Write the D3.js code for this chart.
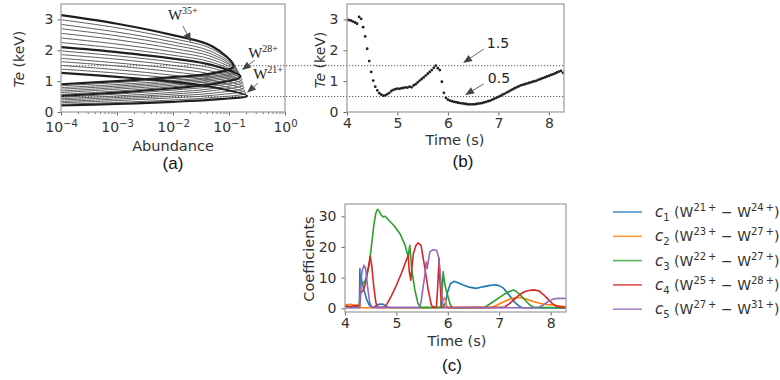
<!DOCTYPE html>
<html>
<head>
<meta charset="utf-8">
<script src="https://cdn.jsdelivr.net/npm/d3@7"></script>
<style>
body { margin: 0; background: #fff; }
svg { display: block; font-family: "DejaVu Sans", sans-serif; }
</style>
</head>
<body>
<svg id="fig" width="780" height="380"></svg>
<script>
// panel (a): W ion abundance curves, Te at fixed abundances on each side of the peak
var chargeStates = [21, 22, 23, 24, 25, 26, 27, 28, 29, 30, 31, 32, 33, 34, 35];
var boldStates = [21, 28, 35];
var abundGrid = [1e-4, 1e-3, 1e-2, 5e-2];
var teUpper = [
    [1.27, 1.14, 0.98, 0.81], [1.39, 1.26, 1.09, 0.91], [1.51, 1.37, 1.19, 1.02],
    [1.63, 1.49, 1.30, 1.12], [1.74, 1.59, 1.41, 1.22], [1.86, 1.71, 1.51, 1.32],
    [1.98, 1.82, 1.62, 1.42], [2.10, 1.94, 1.73, 1.52], [2.25, 2.07, 1.84, 1.61],
    [2.40, 2.20, 1.95, 1.70], [2.55, 2.34, 2.06, 1.79], [2.70, 2.47, 2.17, 1.87],
    [2.84, 2.59, 2.27, 1.95], [2.99, 2.73, 2.38, 2.04], [3.14, 2.86, 2.49, 2.13]
];
var teLower = [
    [0.21, 0.26, 0.33, 0.40], [0.25, 0.31, 0.39, 0.47], [0.30, 0.37, 0.46, 0.54],
    [0.34, 0.42, 0.52, 0.61], [0.39, 0.47, 0.58, 0.69], [0.43, 0.52, 0.64, 0.76],
    [0.48, 0.58, 0.71, 0.83], [0.52, 0.63, 0.77, 0.90], [0.57, 0.68, 0.82, 0.95],
    [0.63, 0.74, 0.87, 1.01], [0.68, 0.79, 0.92, 1.06], [0.74, 0.84, 0.97, 1.11],
    [0.79, 0.89, 1.02, 1.15], [0.85, 0.95, 1.08, 1.20], [0.90, 1.00, 1.13, 1.25]
];
var peakAbund = [0.21, 0.20, 0.19, 0.185, 0.18, 0.175, 0.17, 0.16, 0.155, 0.15, 0.145, 0.14, 0.135, 0.13, 0.12];
var peakTe = [0.52, 0.61, 0.70, 0.79, 0.88, 0.97, 1.06, 1.15, 1.20, 1.25, 1.30, 1.34, 1.38, 1.43, 1.48];
var teLevels = [1.5, 0.5];

// panel (b): measured Te (keV) vs time (s)
var teShot = [
    [4.00, 3.00], [4.04, 2.98], [4.08, 2.96], [4.12, 2.93], [4.16, 2.90], [4.20, 2.86],
    [4.24, 3.08], [4.28, 3.02], [4.32, 2.75], [4.36, 2.45], [4.40, 2.05], [4.44, 1.65],
    [4.48, 1.30], [4.52, 1.02], [4.56, 0.82], [4.60, 0.70], [4.64, 0.61], [4.68, 0.56],
    [4.72, 0.53], [4.76, 0.54], [4.80, 0.58], [4.84, 0.62], [4.88, 0.68], [4.92, 0.72],
    [4.96, 0.74], [5.00, 0.76], [5.04, 0.75], [5.08, 0.77], [5.12, 0.78], [5.16, 0.80],
    [5.20, 0.79], [5.24, 0.82], [5.28, 0.80], [5.32, 0.86], [5.36, 0.90], [5.40, 0.96],
    [5.44, 1.02], [5.48, 1.07], [5.52, 1.12], [5.56, 1.18], [5.60, 1.24], [5.64, 1.30],
    [5.68, 1.36], [5.72, 1.43], [5.76, 1.50], [5.80, 1.42], [5.84, 1.36], [5.88, 0.98],
    [5.92, 0.62], [5.96, 0.46], [6.00, 0.40], [6.04, 0.37], [6.08, 0.35], [6.12, 0.33],
    [6.16, 0.32], [6.20, 0.30], [6.24, 0.29], [6.28, 0.28], [6.32, 0.27], [6.36, 0.26],
    [6.40, 0.25], [6.44, 0.25], [6.48, 0.25], [6.52, 0.25], [6.56, 0.26], [6.60, 0.27],
    [6.64, 0.28], [6.68, 0.29], [6.72, 0.31], [6.76, 0.33], [6.80, 0.35], [6.84, 0.37],
    [6.88, 0.40], [6.92, 0.43], [6.96, 0.46], [7.00, 0.49], [7.04, 0.52], [7.08, 0.56],
    [7.12, 0.59], [7.16, 0.63], [7.20, 0.66], [7.24, 0.70], [7.28, 0.73], [7.32, 0.77],
    [7.36, 0.80], [7.40, 0.83], [7.44, 0.86], [7.48, 0.88], [7.52, 0.90], [7.56, 0.92],
    [7.60, 0.94], [7.64, 0.96], [7.68, 0.98], [7.72, 1.00], [7.76, 1.02], [7.80, 1.05],
    [7.84, 1.07], [7.88, 1.10], [7.92, 1.12], [7.96, 1.15], [8.00, 1.17], [8.04, 1.20],
    [8.08, 1.22], [8.12, 1.25], [8.16, 1.28], [8.20, 1.31], [8.24, 1.33], [8.28, 1.27]
];

// panel (c): coefficients vs time, one [t, value] list per series
var coef1 = [[4.0, 0.4], [4.28, 0.4], [4.29, 13.0], [4.30, 3.0], [4.31, 10.5], [4.36, 6.5], [4.42, 3.0],
    [4.48, 0.8], [4.55, 0.3], [4.62, 1.0], [4.68, 1.4], [4.75, 1.3], [4.80, 0.6], [4.86, 0.2], [5.90, 0.2],
    [5.95, 1.5], [6.00, 5.5], [6.05, 8.0], [6.12, 8.8], [6.20, 8.3], [6.30, 7.6], [6.42, 6.9], [6.55, 6.5],
    [6.68, 7.0], [6.80, 7.4], [6.92, 7.7], [7.00, 7.4], [7.08, 6.6], [7.15, 5.2], [7.22, 3.8], [7.30, 2.0],
    [7.38, 0.8], [7.45, 0.2], [8.30, 0.1]];
var coef2 = [[4.0, 1.1], [4.1, 1.3], [4.2, 1.0], [4.28, 1.2], [4.30, 0.2], [5.85, 0.2], [5.90, 2.5],
    [5.94, 3.5], [5.98, 0.5], [6.02, 0.1], [6.85, 0.2], [6.95, 1.0], [7.05, 1.8], [7.15, 2.6], [7.25, 3.2],
    [7.35, 3.6], [7.45, 3.4], [7.55, 2.9], [7.65, 2.3], [7.75, 1.8], [7.85, 1.4], [7.95, 1.2], [8.05, 1.1],
    [8.15, 0.8], [8.30, 0.5]];
var coef3 = [[4.0, 0.3], [4.28, 0.3], [4.30, 7.5], [4.34, 8.0], [4.38, 8.5], [4.42, 10.5], [4.47, 14.0],
    [4.52, 21.0], [4.56, 27.0], [4.60, 31.0], [4.63, 32.3], [4.66, 31.8], [4.70, 30.5], [4.74, 29.8],
    [4.78, 30.0], [4.82, 29.3], [4.88, 28.2], [4.95, 27.0], [5.07, 24.3], [5.17, 20.5], [5.23, 16.8],
    [5.26, 20.5], [5.30, 12.4], [5.36, 5.9], [5.42, 1.6], [5.48, 0.3], [5.86, 0.3], [5.89, 5.9],
    [5.91, 11.9], [5.94, 8.0], [5.97, 5.9], [6.04, 1.6], [6.08, 0.2], [6.72, 0.3], [6.78, 1.0], [6.90, 2.3],
    [7.00, 3.5], [7.10, 4.6], [7.20, 5.5], [7.28, 6.0], [7.34, 5.4], [7.42, 4.2], [7.52, 2.4], [7.60, 1.0],
    [7.68, 0.3], [8.30, 0.2]];
var coef4 = [[4.0, 0.8], [4.1, 0.6], [4.2, 0.9], [4.28, 0.7], [4.30, 5.0], [4.34, 5.5], [4.38, 7.0],
    [4.42, 10.0], [4.46, 14.0], [4.49, 17.0], [4.52, 14.0], [4.56, 7.0], [4.60, 2.0], [4.63, 0.3],
    [4.78, 0.3], [4.82, 1.5], [4.90, 4.0], [5.00, 7.5], [5.10, 11.5], [5.20, 16.0], [5.23, 17.3],
    [5.25, 12.0], [5.28, 9.2], [5.30, 13.0], [5.33, 17.8], [5.38, 20.5], [5.42, 21.3], [5.48, 20.5],
    [5.55, 13.5], [5.62, 5.9], [5.68, 1.1], [5.72, 0.3], [5.78, 0.5], [5.81, 9.0], [5.83, 16.2], [5.85, 8.0],
    [5.88, 1.0], [5.90, 0.3], [7.10, 0.3], [7.20, 1.5], [7.30, 3.0], [7.40, 4.5], [7.50, 5.5], [7.60, 5.9],
    [7.70, 6.0], [7.78, 5.6], [7.86, 4.5], [7.95, 3.0], [8.03, 1.6], [8.10, 0.8], [8.20, 0.4], [8.30, 0.3]];
var coef5 = [[4.0, 0.2], [4.28, 0.2], [4.30, 6.0], [4.33, 12.0], [4.37, 14.0], [4.40, 13.0], [4.44, 7.0],
    [4.48, 2.0], [4.52, 0.3], [5.44, 0.3], [5.48, 2.0], [5.52, 7.0], [5.55, 10.3], [5.58, 15.1], [5.60, 13.0],
    [5.65, 18.4], [5.71, 19.1], [5.78, 18.9], [5.82, 16.8], [5.86, 10.3], [5.90, 1.6], [5.93, 0.2],
    [7.75, 0.2], [7.85, 1.0], [7.95, 2.2], [8.05, 3.0], [8.15, 3.3], [8.30, 3.2]];
var coefSeries = [coef1, coef2, coef3, coef4, coef5];
var coefColors = ["#1f77b4", "#ff7f0e", "#2ca02c", "#d62728", "#9467bd"];
var coefRanges = [[21, 24], [23, 27], [22, 27], [25, 28], [27, 31]];

var svg = d3.select("#fig");
svg.append("rect").attr("width", 780).attr("height", 380).attr("fill", "#fff");

var frameColor = "#a3a3a3", textColor = "#333";
var intFmt = d3.format("d");

// scales
var xA = d3.scaleLog().domain([1e-4, 1]).range([61, 285]);
var yA = d3.scaleLinear().domain([0, 3.5]).range([112, 4]);
var xB = d3.scaleLinear().domain([4, 8.3]).range([347, 564]);
var yB = d3.scaleLinear().domain([0, 3.5]).range([112, 4]);
var xC = d3.scaleLinear().domain([4, 8.3]).range([345, 566]);
var yC = d3.scaleLinear().domain([-1.2, 34]).range([312, 204]);

// text with sub/superscripts: parts = [text, shift(px), size, italic]
function rich(sel, parts, baseSize) {
    var cur = 0;
    parts.forEach(function(p) {
        var shift = p[1] || 0;
        var t = sel.append("tspan").text(p[0]);
        if (shift !== cur) t.attr("dy", shift - cur);
        t.attr("font-size", p[2] || baseSize);
        if (p[3]) t.attr("font-style", "italic");
        cur = shift;
    });
}

function styleAxis(g) {
    g.select(".domain").remove();
    g.selectAll(".tick line").attr("stroke", "#666");
    g.selectAll(".tick text").attr("fill", textColor).attr("font-size", 14)
        .attr("font-family", "DejaVu Sans, sans-serif");
}

function arrow(g, x1, y1, x2, y2) {
    var dx = x2 - x1, dy = y2 - y1, len = Math.sqrt(dx * dx + dy * dy);
    var ux = dx / len, uy = dy / len, hl = 9, hw = 3.6;
    var bx = x2 - ux * hl, by = y2 - uy * hl;
    g.append("line").attr("x1", x1).attr("y1", y1).attr("x2", bx).attr("y2", by)
        .attr("stroke", "#555").attr("stroke-width", 0.9);
    g.append("polygon")
        .attr("points", [[x2, y2], [bx - uy * hw, by + ux * hw], [bx + uy * hw, by - ux * hw]].join(" "))
        .attr("fill", "#444");
}

function clip(id, x, y) {
    svg.append("clipPath").attr("id", id).append("rect")
        .attr("x", x.range()[0]).attr("y", y.range()[1])
        .attr("width", x.range()[1] - x.range()[0]).attr("height", y.range()[0] - y.range()[1]);
}
clip("clipA", xA, yA);
clip("clipB", xB, yB);
clip("clipC", xC, yC);

// ---------- panel (a) ----------
var gA = svg.append("g");
var curveLine = d3.line()
    .x(function(d) { return xA(d[0]); })
    .y(function(d) { return yA(d[1]); })
    .curve(d3.curveCatmullRom.alpha(0.5));

var ions = chargeStates.map(function(z, i) {
    var pts = abundGrid.map(function(a, j) { return [a, teUpper[i][j]]; });
    pts.push([peakAbund[i], peakTe[i]]);
    abundGrid.slice().reverse().forEach(function(a, j) {
        pts.push([a, teLower[i][abundGrid.length - 1 - j]]);
    });
    return { z: z, pts: pts, bold: boldStates.indexOf(z) >= 0 };
});

var curvesA = gA.append("g").attr("clip-path", "url(#clipA)");
curvesA.selectAll("path.thin")
    .data(ions.filter(function(d) { return !d.bold; }))
    .enter().append("path")
    .attr("class", "thin")
    .attr("d", function(d) { return curveLine(d.pts); })
    .attr("fill", "none").attr("stroke", "#5e5e5e").attr("stroke-width", 1);
curvesA.selectAll("path.bold")
    .data(ions.filter(function(d) { return d.bold; }))
    .enter().append("path")
    .attr("class", "bold")
    .attr("d", function(d) { return curveLine(d.pts); })
    .attr("fill", "none").attr("stroke", "#1e1e1e").attr("stroke-width", 2.2);

var decades = [1e-4, 1e-3, 1e-2, 1e-1, 1];
var minors = [];
decades.slice(0, 4).forEach(function(d) { for (var k = 2; k < 10; k++) minors.push(d * k); });

gA.append("g").attr("transform", "translate(0," + yA.range()[0] + ")")
    .call(d3.axisBottom(xA).tickValues(minors).tickSize(2).tickFormat(""))
    .call(styleAxis);
var axAx = gA.append("g").attr("transform", "translate(0," + yA.range()[0] + ")")
    .call(d3.axisBottom(xA).tickValues(decades).tickSize(3.5).tickFormat(""))
    .call(styleAxis);
axAx.selectAll(".tick text").each(function(d) {
    var t = d3.select(this).attr("y", 20).attr("dy", null);
    rich(t, [["10", 0], [String(Math.round(Math.log10(d))).replace("-", "\u2212"), -5.5, 10]], 14);
});
gA.append("g").attr("transform", "translate(" + xA.range()[0] + ",0)")
    .call(d3.axisLeft(yA).tickValues([0, 1, 2, 3]).tickFormat(intFmt).tickSize(3.5).tickPadding(4))
    .call(styleAxis);

gA.append("rect").attr("x", 61).attr("y", yA.range()[1]).attr("width", 285 - 61)
    .attr("height", yA.range()[0] - yA.range()[1])
    .attr("fill", "none").attr("stroke", frameColor).attr("stroke-width", 1.3);

// W annotations (data coords)
var ionNotes = [
    { label: "35+", text: [8.1e-3, 2.98], from: [0.015, 2.79], to: [0.021, 2.27] },
    { label: "28+", text: [0.22, 1.75], from: [0.29, 1.68], to: [0.17, 1.36] },
    { label: "21+", text: [0.27, 1.07], from: [0.33, 0.94], to: [0.21, 0.62] }
];
ionNotes.forEach(function(n) {
    var t = gA.append("text").attr("x", xA(n.text[0])).attr("y", yA(n.text[1]))
        .attr("font-family", "Liberation Serif, DejaVu Serif, serif").attr("fill", "#222");
    rich(t, [["W", 0], [n.label, -6, 10]], 15);
    arrow(gA, xA(n.from[0]), yA(n.from[1]), xA(n.to[0]), yA(n.to[1]));
});

gA.append("text").attr("transform", "translate(24,59) rotate(-90)").attr("text-anchor", "middle")
    .attr("fill", textColor).call(function(t) { rich(t, [["Te", 0, 14, true], [" (keV)", 0]], 14); });
gA.append("text").attr("x", 173).attr("y", 151).attr("text-anchor", "middle")
    .attr("font-size", 14.5).attr("fill", textColor).text("Abundance");
gA.append("text").attr("x", 173).attr("y", 169).attr("text-anchor", "middle")
    .attr("font-size", 17).attr("font-family", "Liberation Sans, Arial, sans-serif").attr("fill", "#111").text("(a)");

// dotted Te levels across panels (a) and (b)
svg.selectAll("line.level").data(teLevels).enter().append("line")
    .attr("class", "level")
    .attr("x1", xA.range()[0]).attr("x2", xB.range()[1])
    .attr("y1", function(d) { return yA(d); }).attr("y2", function(d) { return yA(d); })
    .attr("stroke", "#555").attr("stroke-width", 1).attr("stroke-dasharray", "1.2,1.8");

// ---------- panel (b) ----------
var gB = svg.append("g");
gB.append("g").attr("clip-path", "url(#clipB)")
    .selectAll("circle").data(teShot).enter().append("circle")
    .attr("cx", function(d) { return xB(d[0]); })
    .attr("cy", function(d) { return yB(d[1]); })
    .attr("r", 1.4).attr("fill", "#222");

gB.append("g").attr("transform", "translate(0," + yB.range()[0] + ")")
    .call(d3.axisBottom(xB).tickValues([4, 5, 6, 7, 8]).tickFormat(intFmt).tickSize(3.5).tickPadding(3))
    .call(styleAxis);
gB.append("g").attr("transform", "translate(" + xB.range()[0] + ",0)")
    .call(d3.axisLeft(yB).tickValues([0, 1, 2, 3]).tickFormat(intFmt).tickSize(3.5).tickPadding(5))
    .call(styleAxis);
gB.append("rect").attr("x", xB.range()[0]).attr("y", yB.range()[1])
    .attr("width", xB.range()[1] - xB.range()[0]).attr("height", yB.range()[0] - yB.range()[1])
    .attr("fill", "none").attr("stroke", frameColor).attr("stroke-width", 1.3);

var levelNotes = [
    { label: "1.5", text: [6.77, 2.07], from: [6.71, 2.04], to: [6.30, 1.59] },
    { label: "0.5", text: [6.79, 0.94], from: [6.71, 0.91], to: [6.34, 0.55] }
];
levelNotes.forEach(function(n) {
    gB.append("text").attr("x", xB(n.text[0])).attr("y", yB(n.text[1]))
        .attr("font-size", 14).attr("fill", "#222").text(n.label);
    arrow(gB, xB(n.from[0]), yB(n.from[1]), xB(n.to[0]), yB(n.to[1]));
});

gB.append("text").attr("transform", "translate(325,60) rotate(-90)").attr("text-anchor", "middle")
    .attr("fill", textColor).call(function(t) { rich(t, [["Te", 0, 14, true], [" (keV)", 0]], 14); });
gB.append("text").attr("x", 455).attr("y", 145).attr("text-anchor", "middle")
    .attr("font-size", 14.5).attr("fill", textColor).text("Time (s)");
gB.append("text").attr("x", 463).attr("y", 167).attr("text-anchor", "middle")
    .attr("font-size", 17).attr("font-family", "Liberation Sans, Arial, sans-serif").attr("fill", "#111").text("(b)");

// ---------- panel (c) ----------
var gC = svg.append("g");
var coefLine = d3.line()
    .x(function(d) { return xC(d[0]); })
    .y(function(d) { return yC(d[1]); });
gC.append("g").attr("clip-path", "url(#clipC)")
    .selectAll("path").data(coefSeries).enter().append("path")
    .attr("d", coefLine)
    .attr("fill", "none")
    .attr("stroke", function(d, i) { return coefColors[i]; })
    .attr("stroke-width", 1.6).attr("stroke-linejoin", "round");

gC.append("g").attr("transform", "translate(0," + yC.range()[0] + ")")
    .call(d3.axisBottom(xC).tickValues([4, 5, 6, 7, 8]).tickFormat(intFmt).tickSize(3.5).tickPadding(3))
    .call(styleAxis);
gC.append("g").attr("transform", "translate(" + xC.range()[0] + ",0)")
    .call(d3.axisLeft(yC).tickValues([0, 10, 20, 30]).tickFormat(intFmt).tickSize(3.5).tickPadding(5))
    .call(styleAxis);
gC.append("rect").attr("x", xC.range()[0]).attr("y", yC.range()[1])
    .attr("width", xC.range()[1] - xC.range()[0]).attr("height", yC.range()[0] - yC.range()[1])
    .attr("fill", "none").attr("stroke", frameColor).attr("stroke-width", 1.3);

gC.append("text").attr("transform", "translate(314,259) rotate(-90)").attr("text-anchor", "middle")
    .attr("font-size", 14.5).attr("fill", textColor).text("Coefficients");
gC.append("text").attr("x", 457).attr("y", 346).attr("text-anchor", "middle")
    .attr("font-size", 14.5).attr("fill", textColor).text("Time (s)");
gC.append("text").attr("x", 452).attr("y", 371).attr("text-anchor", "middle")
    .attr("font-size", 17).attr("font-family", "Liberation Sans, Arial, sans-serif").attr("fill", "#111").text("(c)");

// legend
var legend = svg.append("g").attr("transform", "translate(613,212)");
var rows = legend.selectAll("g").data(coefRanges).enter().append("g")
    .attr("transform", function(d, i) { return "translate(0," + (i * 24.3) + ")"; });
rows.append("line").attr("x1", 0).attr("x2", 29).attr("y1", 0).attr("y2", 0)
    .attr("stroke", function(d, i) { return coefColors[i]; })
    .attr("stroke-width", 1.6).attr("stroke-opacity", 0.8);
rows.append("text").attr("x", 42).attr("y", 5).attr("fill", textColor)
    .each(function(d, i) {
        rich(d3.select(this), [
            ["c", 0, 15, true], [String(i + 1), 4, 10], [" (W", 0],
            [d[0] + "\u2009+", -6, 10], [" \u2212 W", 0], [d[1] + "\u2009+", -6, 10], [")", 0]
        ], 14);
    });
</script>
</body>
</html>
